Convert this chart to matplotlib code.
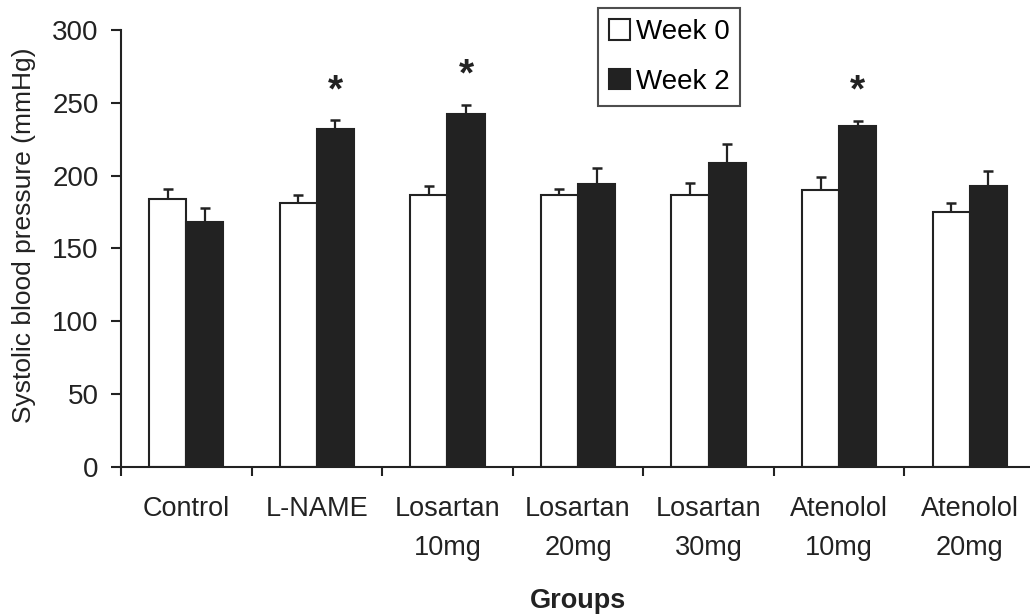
import matplotlib
matplotlib.use("Agg")
import matplotlib.pyplot as plt
import numpy as np

groups = ["Control", "L-NAME", "Losartan\n10mg", "Losartan\n20mg", "Losartan\n30mg", "Atenolol\n10mg", "Atenolol\n20mg"]
week0 = [184, 181, 186.5, 186.5, 187, 190, 175]
week0_err = [7, 5.5, 6.5, 4.5, 8, 9, 6]
week2 = [168, 232, 242.5, 194.5, 209, 234, 193]
week2_err = [10, 6, 6, 11, 13, 3.5, 10]
significant = [1, 2, 5]
yticks = [0, 50, 100, 150, 200, 250, 300]

plt.rcParams['font.family'] = ['Liberation Sans', 'DejaVu Sans']
dark = "#222222"

fig = plt.figure(figsize=(10.30, 6.14), dpi=100)
ax = fig.add_axes([121/1030, (614-467)/614, 914/1030, 437/614])

x = np.arange(len(groups))
w = 0.285
ax.bar(x - w/2, week0, w, color="white", edgecolor=dark, linewidth=1.5, label="Week 0", zorder=2)
ax.bar(x + w/2, week2, w, color=dark, edgecolor=dark, linewidth=1.5, label="Week 2", zorder=2)
ax.errorbar(x - w/2, week0, yerr=[np.zeros(len(x)), week0_err], fmt="none", ecolor=dark, elinewidth=1.6, capsize=3.5, capthick=1.8, zorder=1)
ax.errorbar(x + w/2, week2, yerr=[np.zeros(len(x)), week2_err], fmt="none", ecolor=dark, elinewidth=1.6, capsize=3.5, capthick=1.8, zorder=1)

for i in significant:
    ax.text(x[i] + w/2, week2[i] + week2_err[i] + 20, "*", ha="center", va="center", fontsize=28, fontweight="bold", color=dark)

ax.set_xlim(-0.5, len(groups) - 0.5)
ax.set_ylim(0, 300)
ax.set_yticks(yticks)
ax.tick_params(axis="y", direction="out", length=7, width=1.5, labelsize=20, pad=9, colors=dark)
ax.set_xticks(np.arange(len(groups) + 1) - 0.5)
ax.set_xticklabels([])
ax.tick_params(axis="x", which="major", direction="out", length=6.5, width=1.5, colors=dark)
ax.set_xticks(x, minor=True)
ax.set_xticklabels(groups, minor=True, fontsize=19.5, linespacing=1.65)
ax.tick_params(axis="x", which="minor", length=0, pad=21, colors=dark)

for s in ["top", "right"]:
    ax.spines[s].set_visible(False)
for s in ["left", "bottom"]:
    ax.spines[s].set_linewidth(1.5)
    ax.spines[s].set_color(dark)

ax.set_ylabel("Systolic blood pressure (mmHg)", fontsize=19, color=dark)
ax.yaxis.set_label_coords(-0.093, (467 - 235) / 437)
ax.set_xlabel("Groups", fontsize=19.5, fontweight="bold", color=dark, labelpad=19.5)

leg = ax.legend(loc="upper left", bbox_to_anchor=(477/914, 1 + 22/437), borderaxespad=0, fontsize=20, frameon=True, fancybox=False,
                edgecolor=dark, handlelength=0.75, handleheight=0.75, handletextpad=0.2, borderpad=0.4, labelspacing=0.85)
leg.get_frame().set_linewidth(1.5)

fig.savefig("out.png", dpi=100)
